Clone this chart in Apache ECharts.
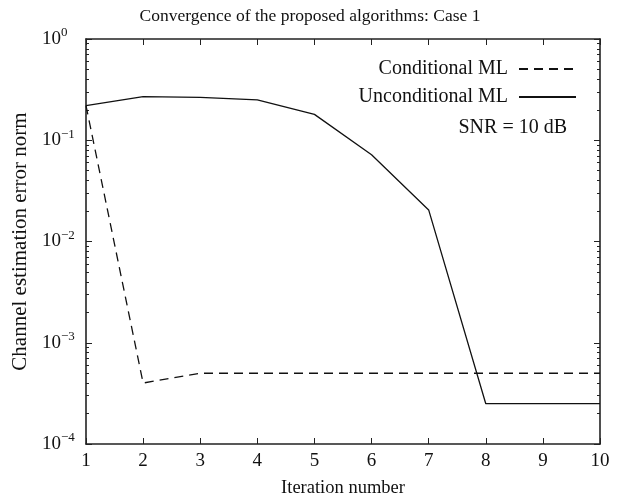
<!DOCTYPE html>
<html><head><meta charset="utf-8">
<script src="https://cdn.jsdelivr.net/npm/echarts@6/dist/echarts.min.js"></script>
<style>html,body{margin:0;padding:0;background:#fff}#c{width:620px;height:503px}</style>
</head><body><div id="c"></div>
<script>
const iterations = [1,2,3,4,5,6,7,8,9,10];
const conditionalML = [0.22,0.0004,0.0005,0.0005,0.0005,0.0005,0.0005,0.0005,0.0005,0.0005];
const unconditionalML = [0.22,0.27,0.265,0.25,0.18,0.072,0.0205,0.00025,0.00025,0.00025];
const xTicks = [1,2,3,4,5,6,7,8,9,10];
const yExponents = [0,-1,-2,-3,-4];

const F = 'Liberation Serif';
const C = '#222';
const chart = echarts.init(document.getElementById('c'));
const pair = a => iterations.map((x,i)=>[x,a[i]]);
const yFmt = v => { const e = Math.round(Math.log10(v)); return yExponents.includes(e) ? '10{s|' + (e===0?'0':'−'+(-e)) + '}' : ''; };
const axisLine = {show:true, lineStyle:{color:C, width:1.6}};
const legendText = {fontFamily:F, fontSize:20, color:'#111', padding:[0,6,0,0]};
chart.setOption({
  animation:false,
  title:{text:'Convergence of the proposed algorithms: Case 1', left:'center', top:2,
    textStyle:{fontFamily:F, fontSize:17.5, fontWeight:'normal', color:'#111'}},
  grid:{left:86, right:20, top:39, bottom:58},
  legend:[
    {data:['Conditional ML'], right:38, top:54, align:'right', itemWidth:57, itemHeight:14,
     itemStyle:{opacity:0}, textStyle:legendText},
    {data:['Unconditional ML'], right:38, top:82, align:'right', itemWidth:57, itemHeight:14,
     itemStyle:{opacity:0}, textStyle:legendText}
  ],
  graphic:[{type:'text', right:53, top:118, style:{text:'SNR = 10 dB', font:'20px "Liberation Serif"', fill:'#111'}}],
  xAxis:[
    {type:'value', min:1, max:10, interval:1, name:'Iteration number', nameLocation:'middle', nameGap:35,
     nameTextStyle:{fontFamily:F, fontSize:18.5, color:'#111'},
     axisLine, axisTick:{inside:true, length:6, lineStyle:{color:C}},
     axisLabel:{fontFamily:F, fontSize:19, color:'#111', margin:8}, splitLine:{show:false}},
    {type:'value', min:1, max:10, interval:1, position:'top', axisLine,
     axisTick:{inside:true, length:6, lineStyle:{color:C}}, axisLabel:{show:false}, splitLine:{show:false}}
  ],
  yAxis:[
    {type:'log', min:1e-4, max:1, logBase:10, name:'Channel estimation error norm', nameLocation:'middle', nameGap:52,
     nameTextStyle:{fontFamily:F, fontSize:21, color:'#111'},
     axisLine, axisTick:{inside:true, length:6, lineStyle:{color:C}},
     minorTick:{show:true, splitNumber:9, length:3, lineStyle:{color:C}},
     axisLabel:{fontFamily:F, fontSize:19, color:'#111', margin:44, align:'left', formatter:yFmt,
       rich:{s:{fontFamily:F, fontSize:13, color:'#111', verticalAlign:'top', padding:[0,0,12,0]}}},
     splitLine:{show:false}},
    {type:'log', min:1e-4, max:1, logBase:10, position:'right', axisLine,
     axisTick:{inside:true, length:6, lineStyle:{color:C}},
     minorTick:{show:true, splitNumber:9, length:3, lineStyle:{color:C}},
     axisLabel:{show:false}, splitLine:{show:false}}
  ],
  series:[
    {name:'Conditional ML', type:'line', data:pair(conditionalML), symbol:'none', color:'#111',
     lineStyle:{color:'#111', width:1.3, type:[9,6]}},
    {name:'Unconditional ML', type:'line', data:pair(unconditionalML), symbol:'none', color:'#111',
     lineStyle:{color:'#111', width:1.3}}
  ]
});
</script></body></html>
